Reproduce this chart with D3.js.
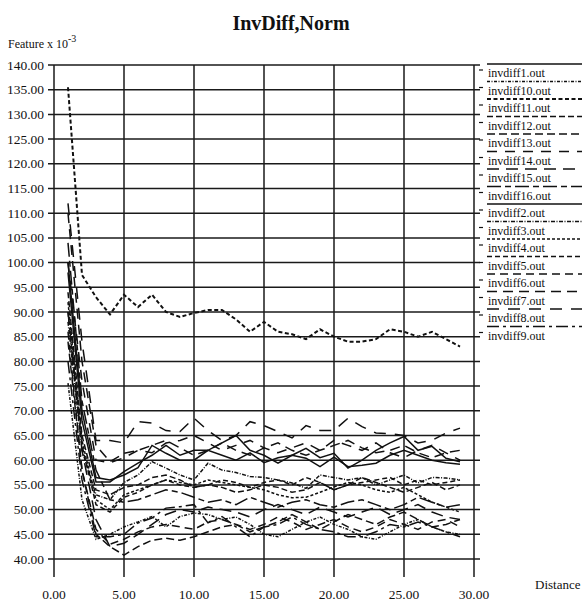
<!DOCTYPE html>
<html>
<head>
<meta charset="utf-8">
<script src="https://cdn.jsdelivr.net/npm/d3@7"></script>
<style>
  html, body { margin: 0; padding: 0; background: #fff; }
  svg { display: block; }
  text { font-family: "Liberation Serif", "Times New Roman", serif; fill: #111; }
</style>
</head>
<body>
<svg id="chart" width="582" height="603"></svg>
<script>
// Distance steps 1..29
const distances = d3.range(1, 30);

// Axis ticks
const xTicks = [0, 5, 10, 15, 20, 25, 30];
const yTicks = d3.range(40, 141, 5);

// Series names in legend order
const seriesNames = [
  "invdiff1.out", "invdiff10.out", "invdiff11.out", "invdiff12.out",
  "invdiff13.out", "invdiff14.out", "invdiff15.out", "invdiff16.out",
  "invdiff2.out", "invdiff3.out", "invdiff4.out", "invdiff5.out",
  "invdiff6.out", "invdiff7.out", "invdiff8.out", "invdiff9.out"
];

// Feature values (x 10^-3) for each file, at distances 1..29
const invdiff1  = [98, 68, 55.6, 55.6, 57.7, 59.4, 61, 63, 61, 62, 62, 63.5, 65, 62, 61, 59.4, 61, 62.4, 60.5, 61.4, 58.4, 60, 62, 63.5, 64.8, 62, 62.8, 60.4, 59.7];
const invdiff10 = [75.6, 52, 44, 45, 46.5, 47.5, 48.6, 46.5, 48.6, 49.3, 49, 48, 48.5, 47, 45, 44.5, 46, 47.5, 48.5, 47, 46, 44.5, 44, 45.5, 47, 48, 46.5, 45.5, 45];
const invdiff11 = [135.5, 97.5, 93, 89.5, 93.5, 91, 93.5, 90, 89, 89.8, 90.4, 90.4, 88.5, 86, 88, 86, 85.5, 84.5, 86.5, 85, 84, 84, 84.5, 86.5, 86, 85, 86, 84.5, 83];
const invdiff12 = [94, 65, 54, 53, 54.5, 55, 56.5, 57, 56, 54.5, 55, 54.5, 53.5, 54, 55, 54.5, 53.5, 54, 55.5, 54, 55, 56.5, 55.5, 54.5, 53.5, 54.5, 55.5, 54, 55];
const invdiff13 = [84, 58, 45, 42.5, 40.8, 42.5, 43.8, 44.2, 43.8, 44.5, 45.5, 46.5, 47, 45.5, 46.5, 47.5, 49, 47.5, 46, 47.5, 49, 48, 47, 48.5, 49.5, 48, 46.5, 47, 48];
const invdiff14 = [100, 76, 60, 59.5, 60.5, 62, 61.5, 63.5, 64, 65, 63.5, 62, 63, 64, 62.5, 61.5, 62.5, 63.5, 62, 64, 63, 62, 63.5, 61.5, 60.5, 62, 63, 61.5, 60];
const invdiff15 = [90, 62, 48, 42.5, 43.2, 45, 47, 49, 50, 49.5, 50.5, 50, 49.5, 48.5, 50, 51, 50, 49, 50.5, 49.5, 48.5, 49.5, 50.5, 49, 50, 51, 49.5, 48.5, 48];
const invdiff16 = [104, 72, 58, 52, 51.5, 52, 53, 54, 53.5, 52.5, 51.5, 52, 51, 52.5, 51.5, 50.5, 51.5, 52, 51, 50.5, 51.5, 52, 51, 50, 51, 52.5, 51.5, 50.5, 51];
const invdiff2  = [100, 70, 56.5, 56, 57, 58.5, 63, 61.4, 60, 60, 62, 61, 60, 61.5, 59.5, 60.5, 61, 60.4, 58.7, 60.6, 58.7, 59, 59.4, 61, 62, 61, 60, 59.5, 59.2];
const invdiff3  = [88, 62, 53, 52, 55.5, 57, 59.7, 58.4, 57, 56, 59.4, 58, 57.5, 56.7, 56.5, 56, 55.4, 54.3, 57, 56.5, 56, 56.5, 55, 56, 57, 55.4, 56.5, 56.4, 56];
const invdiff4  = [92, 64, 52, 50, 53, 54, 55, 56, 55.5, 55, 56, 55.5, 55, 54.5, 54, 53, 52.4, 52.5, 53.5, 54.6, 55.5, 55, 54, 53.5, 54.5, 53, 51.5, 50.5, 49.5];
const invdiff5  = [90, 63, 51, 49.5, 52.5, 53.5, 55, 56, 55, 54.5, 55, 56, 55.5, 54.5, 55.5, 56, 55, 56.5, 55.5, 54, 55, 55.5, 56, 56.5, 55, 56, 55, 55.5, 56];
const invdiff6  = [86, 58, 46, 43, 44, 45.5, 46.5, 47, 46.5, 46, 47.5, 48, 47, 46, 47, 48.5, 47.5, 46, 47, 48, 46.5, 45.5, 46.5, 48, 47, 46, 47.5, 48, 46.5];
const invdiff7  = [110, 80, 63, 59.7, 61.4, 62, 63, 64, 62.5, 61, 62, 63.5, 62, 61, 62.5, 63.5, 62, 61, 62, 63, 64, 62.5, 61.5, 62, 63, 61.5, 60.5, 61.5, 62];
const invdiff8  = [112, 84, 64, 64, 63.5, 67.8, 67.5, 66, 65.8, 68.5, 66, 64, 65, 67.8, 67, 65.8, 64.5, 67, 66, 66, 68.5, 66.8, 65.5, 65.4, 65, 63.5, 64, 65.5, 66.5];
const invdiff9  = [80, 56, 44.5, 44.5, 45, 47.3, 48.3, 50.3, 50.6, 51, 47.3, 48.6, 46.5, 44.5, 46.5, 47, 48.5, 47, 46, 45.5, 44.5, 44.5, 45.5, 47, 46.5, 47.5, 46.5, 45.5, 44.5];

const seriesValues = [
  invdiff1, invdiff10, invdiff11, invdiff12, invdiff13, invdiff14, invdiff15, invdiff16,
  invdiff2, invdiff3, invdiff4, invdiff5, invdiff6, invdiff7, invdiff8, invdiff9
];

// Line pattern for each file, legend order
const dashes = [
  null, "3,1.5,1,1.5", "4,2.5", "6,3",
  "8,4", "10,8", "12,7", "14,4,6,4",
  null, "4,1.5,1,1.5", "3,2", "5,3",
  "8,5", "10,6", "12,9", "12,4,3,4"
];

const svg = d3.select("#chart");

const x = d3.scaleLinear().domain([0, 30]).range([54, 474]);
const y = d3.scaleLinear().domain([40, 140]).range([559, 65]);
const gridRight = 480;
const gridBottom = 577;

// Title and axis captions
svg.append("text")
  .attr("x", 291).attr("y", 30)
  .attr("text-anchor", "middle")
  .style("font-size", "20px").style("font-weight", "bold")
  .text("InvDiff,Norm");

const yCap = svg.append("text").attr("x", 8).attr("y", 48).style("font-size", "12px");
yCap.append("tspan").text("Feature x 10");
yCap.append("tspan").attr("dy", -6).style("font-size", "10px").text("-3");

svg.append("text")
  .attr("x", 535).attr("y", 589)
  .style("font-size", "13px")
  .text("Distance");

// Grid: horizontal lines at each y tick, with a short outer tick on the left
const grid = svg.append("g").attr("stroke", "#1a1a1a").attr("stroke-width", 1.5);
grid.selectAll("line.h").data(yTicks).join("line")
  .attr("class", "h")
  .attr("x1", x(0) - 6).attr("x2", gridRight)
  .attr("y1", d => y(d)).attr("y2", d => y(d));

// Vertical lines at each x tick, running down past the lowest row
grid.selectAll("line.v").data(xTicks).join("line")
  .attr("class", "v")
  .attr("x1", d => x(d)).attr("x2", d => x(d))
  .attr("y1", y(140)).attr("y2", gridBottom);

// Tick labels
svg.append("g").selectAll("text").data(yTicks).join("text")
  .attr("x", 44).attr("y", d => y(d) + 4.5)
  .attr("text-anchor", "end")
  .style("font-size", "13.5px")
  .text(d => d3.format(".2f")(d));

svg.append("g").selectAll("text").data(xTicks).join("text")
  .attr("x", d => x(d)).attr("y", 599)
  .attr("text-anchor", "middle")
  .style("font-size", "13.5px")
  .text(d => d3.format(".2f")(d));

// Data lines
const line = d3.line()
  .x((d, i) => x(distances[i]))
  .y(d => y(d));

svg.append("g")
  .attr("fill", "none")
  .attr("stroke", "#111")
  .selectAll("path").data(seriesValues).join("path")
  .attr("d", d => line(d))
  .attr("stroke-width", (d, i) => i === 2 ? 2 : 1.5)
  .attr("stroke-dasharray", (d, i) => dashes[i]);

// Legend: pattern sample above each file name
const legendTop = 64;
const legendStep = 17.5;
const legend = svg.append("g");
const entry = legend.selectAll("g").data(seriesNames).join("g")
  .attr("transform", (d, i) => `translate(0,${legendTop + i * legendStep})`);

entry.append("line")
  .attr("x1", 487).attr("x2", 582)
  .attr("y1", 0).attr("y2", 0)
  .attr("stroke", "#111")
  .attr("stroke-width", (d, i) => i === 2 ? 2 : 1.5)
  .attr("stroke-dasharray", (d, i) => dashes[i]);

entry.append("line")
  .attr("x1", 479).attr("x2", 483)
  .attr("y1", 6).attr("y2", 6)
  .attr("stroke", "#111").attr("stroke-width", 1.2);

entry.append("text")
  .attr("x", 488).attr("y", 13)
  .style("font-size", "12px")
  .text(d => d);
</script>
</body>
</html>
